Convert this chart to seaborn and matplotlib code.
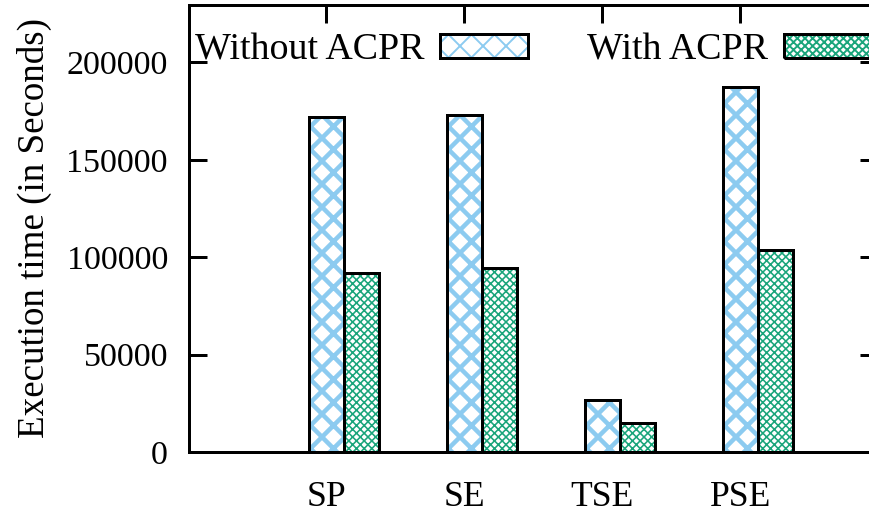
import matplotlib
matplotlib.use("Agg")
import numpy as np
import pandas as pd
import matplotlib.pyplot as plt
import seaborn as sns
from matplotlib.patches import Patch, Rectangle

# ── data ──────────────────────────────────────────────────
benchmarks   = ['SP', 'SE', 'TSE', 'PSE']
without_acpr = [172000, 173000, 26700, 187500]
with_acpr    = [92000, 94300, 15000, 103700]
series_names = ['Without ACPR', 'With ACPR']
y_ticks      = [0, 50000, 100000, 150000, 200000]

df = pd.DataFrame({
    'benchmark': benchmarks * 2,
    'time': without_acpr + with_acpr,
    'config': [series_names[0]] * 4 + [series_names[1]] * 4,
})

# dpi chosen so the hatch cell (1 inch) matches the reference pattern size
DPI = 138
P = 72 / DPI          # pixels -> points

# ── style ─────────────────────────────────────────────────
sns.set_style('ticks')
plt.rcParams['font.family'] = ['Liberation Serif', 'DejaVu Serif']
plt.rcParams['axes.linewidth'] = 3 * P
plt.rcParams['text.color'] = 'black'
plt.rcParams['axes.labelcolor'] = 'black'
plt.rcParams['xtick.color'] = 'black'
plt.rcParams['ytick.color'] = 'black'

hatch_style = {
    series_names[0]: dict(color='#8ccbf0', hatch='xx', lw=4.5 * P),
    series_names[1]: dict(color='#1aa57b', hatch='xxxxxx', lw=1.6 * P),
}

fig = plt.figure(figsize=(870 / DPI, 514 / DPI), dpi=DPI)
ax = fig.add_axes([189 / 870, 62 / 514, 689 / 870, 447 / 514])

sns.barplot(data=df, x='benchmark', y='time', hue='config',
            order=benchmarks, hue_order=series_names,
            palette=['white', 'white'], width=0.507, dodge=True,
            legend=False, ax=ax)

# patterned fill + black outline for every bar
n = len(benchmarks)
bars = list(ax.patches)
for i, bar in enumerate(bars):
    st = hatch_style[series_names[i // n]]
    bar.set_facecolor('white')
    bar.set_edgecolor(st['color'])
    bar.set_hatch(st['hatch'])
    bar.set_linewidth(0)
    if hasattr(bar, 'set_hatch_linewidth'):
        bar.set_hatch_linewidth(st['lw'])
    ax.add_patch(Rectangle(bar.get_xy(), bar.get_width(), bar.get_height(),
                           fill=False, edgecolor='black', lw=3 * P, zorder=3))

ax.set_xlim(-1.123, 3.87)
ax.set_ylim(0, 229500)
ax.set_yticks(y_ticks)
ax.set_yticklabels([str(v) for v in y_ticks], fontsize=34 * P)
ax.set_xticks(np.arange(n) - 0.128)
ax.set_xticklabels(benchmarks, fontsize=35.5 * P)
ax.tick_params(axis='x', bottom=False, top=True, direction='in',
               length=18 * P, width=3 * P, pad=29 * P,
               labelbottom=True, labeltop=False)
ax.tick_params(axis='y', left=True, right=True, direction='in',
               length=18 * P, width=3 * P, pad=21 * P)
for s in ax.spines.values():
    s.set_visible(True)
    s.set_color('black')

ax.set_xlabel('')
ax.set_ylabel('Execution time (in Seconds)', fontsize=37 * P)
ax.yaxis.set_label_coords(-0.199, 0.5)

# gnuplot-like key: text first, then sample box
handles = []
for name in series_names:
    st = hatch_style[name]
    p = Patch(facecolor='white', edgecolor=st['color'], hatch=st['hatch'], lw=0)
    if hasattr(p, 'set_hatch_linewidth'):
        p.set_hatch_linewidth(st['lw'])
    handles.append((p, Patch(fill=False, edgecolor='black', lw=3 * P)))
fig.legend(handles, series_names, loc='upper left',
           bbox_to_anchor=(195 / 870, 1 - 33 / 514), ncol=2, frameon=False,
           markerfirst=False, fontsize=38 * P, handlelength=2.3,
           handleheight=0.6, handletextpad=0.42, columnspacing=1.55,
           borderpad=0, borderaxespad=0)

plt.savefig('out.png', dpi=DPI)
